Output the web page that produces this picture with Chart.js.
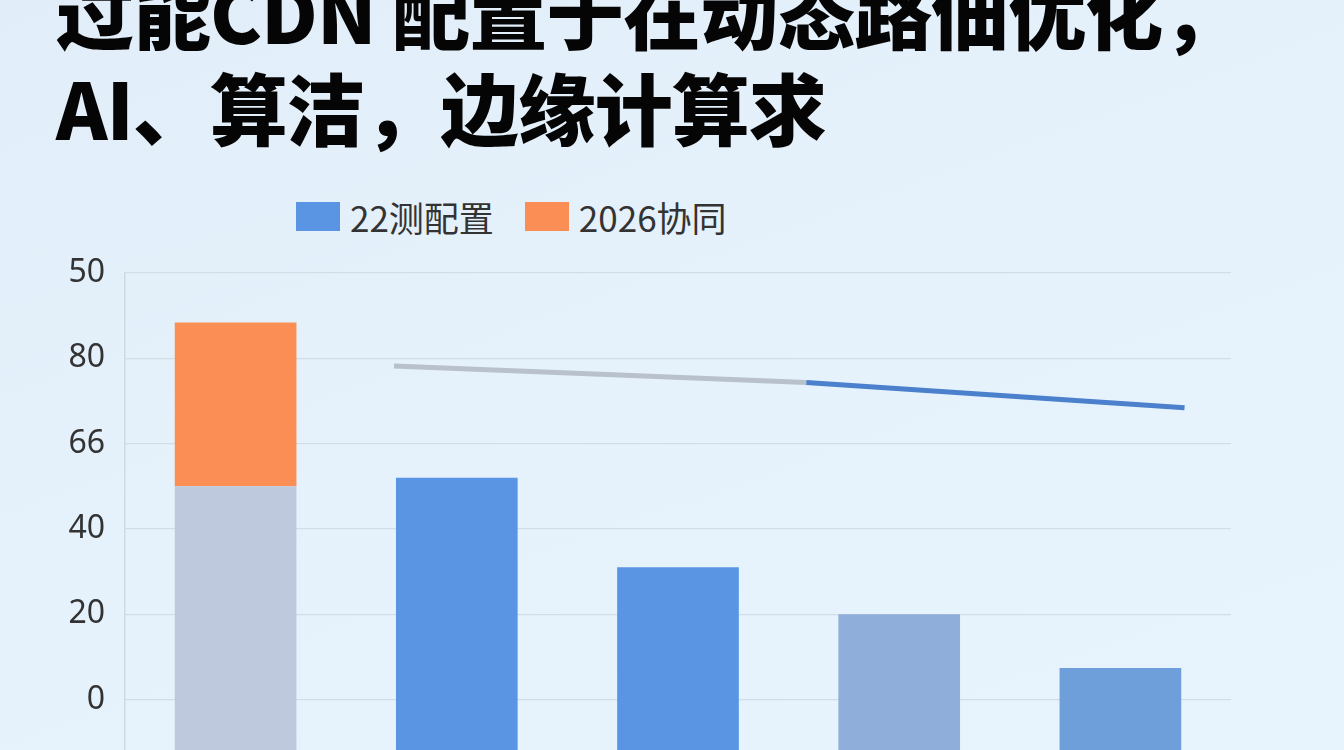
<!DOCTYPE html>
<html>
<head>
<meta charset="utf-8">
<script src="https://cdn.jsdelivr.net/npm/chart.js@4.4.1/dist/chart.umd.min.js"></script>
<style>
html,body{margin:0;padding:0;width:1344px;height:750px;overflow:hidden;}
body{background:linear-gradient(160deg,#e1edf8 0%,#e5f1fb 45%,#e8f4fd 100%);font-family:"Noto Sans CJK SC","Noto Sans",sans-serif;position:relative;}
#title{position:absolute;left:56px;top:-38px;margin:0;font-size:78px;line-height:96px;font-weight:900;color:#050505;letter-spacing:-1px;white-space:nowrap;}
#legend{position:absolute;left:296px;top:191px;display:flex;align-items:center;font-size:35px;color:#333;}
#legend .it{display:flex;align-items:center;margin-right:31px;}
#legend .box{width:44px;height:29px;margin-right:10px;}
#wrap{position:absolute;left:0;top:0;width:1344px;height:824px;}
</style>
</head>
<body>
<h1 id="title">过能CDN 配置于在动态路佃优化，<br>AI、算洁，边缘计算求</h1>
<div id="legend"></div>
<div id="wrap"><canvas id="c"></canvas></div>
<script>
// categories (axis labels are cut off in the picture)
const CATS=['1','2','3','4','5'];
const TICK_VALUES=[0,20,40,60,80,100];
const TICK_LABELS=['0','20','40','66','80','50'];
const BASE_NAME='22测配置', TOP_NAME='2026协同';
const BASE_VALS=[50,52,31,20,7.4];
const TOP_VALS=[38.4,null,null,null,null];
const LINE_X=[0.716,2.58,4.29];
const LINE_Y=[78.2,74.3,68.4];

const BAR_COLORS=['#bec9dd','#5a95e3','#5a95e3','#8faeda','#6e9fdb'];
const LEGEND_COLORS=['#5a95e3','#fb8e55'];

const leg=document.getElementById('legend');
[BASE_NAME,TOP_NAME].forEach((n,i)=>{
  const it=document.createElement('div');it.className='it';
  it.innerHTML='<span class="box" style="background:'+LEGEND_COLORS[i]+'"></span><span>'+n+'</span>';
  leg.appendChild(it);
});

// top part sits on the base bar as a floating range
const topRanges=TOP_VALS.map((v,i)=>v==null?null:[BASE_VALS[i],BASE_VALS[i]+v]);

new Chart(document.getElementById('c'),{
  data:{labels:CATS,datasets:[
    {type:'bar',label:BASE_NAME,data:BASE_VALS,backgroundColor:BAR_COLORS,base:-20,grouped:false,
     categoryPercentage:1,barPercentage:0.55,order:2},
    {type:'bar',label:TOP_NAME,data:topRanges,backgroundColor:'#fb8e55',grouped:false,
     categoryPercentage:1,barPercentage:0.55,order:2},
    {type:'line',label:'trend',xAxisID:'xl',data:LINE_X.map((x,i)=>({x,y:LINE_Y[i]})),
     borderWidth:5,pointRadius:0,borderCapStyle:'butt',tension:0,order:1,
     segment:{borderColor:c=>c.p0DataIndex===0?'#b9c1cc':'#4a80cc'}}
  ]},
  options:{responsive:true,maintainAspectRatio:false,animation:false,
    layout:{padding:{top:273,left:69,right:113,bottom:0}},
    plugins:{legend:{display:false},tooltip:{enabled:false}},
    scales:{
      x:{offset:true,ticks:{display:false},grid:{display:false},border:{display:false}},
      xl:{type:'linear',display:false,min:-0.5,max:4.5,offset:false},
      y:{min:-20,max:100,
        afterBuildTicks:a=>{a.ticks=TICK_VALUES.map(v=>({value:v}));},
        afterFit:s=>{s.width=56;},
        ticks:{padding:20,color:'#333',font:{family:'Noto Sans',size:32},
          callback:v=>TICK_LABELS[TICK_VALUES.indexOf(v)]},
        grid:{color:'#d3dde7',lineWidth:1.2,drawTicks:false},
        border:{display:true,color:'#cfd9e3',width:1.5}}
    }}
});
</script>
</body>
</html>
